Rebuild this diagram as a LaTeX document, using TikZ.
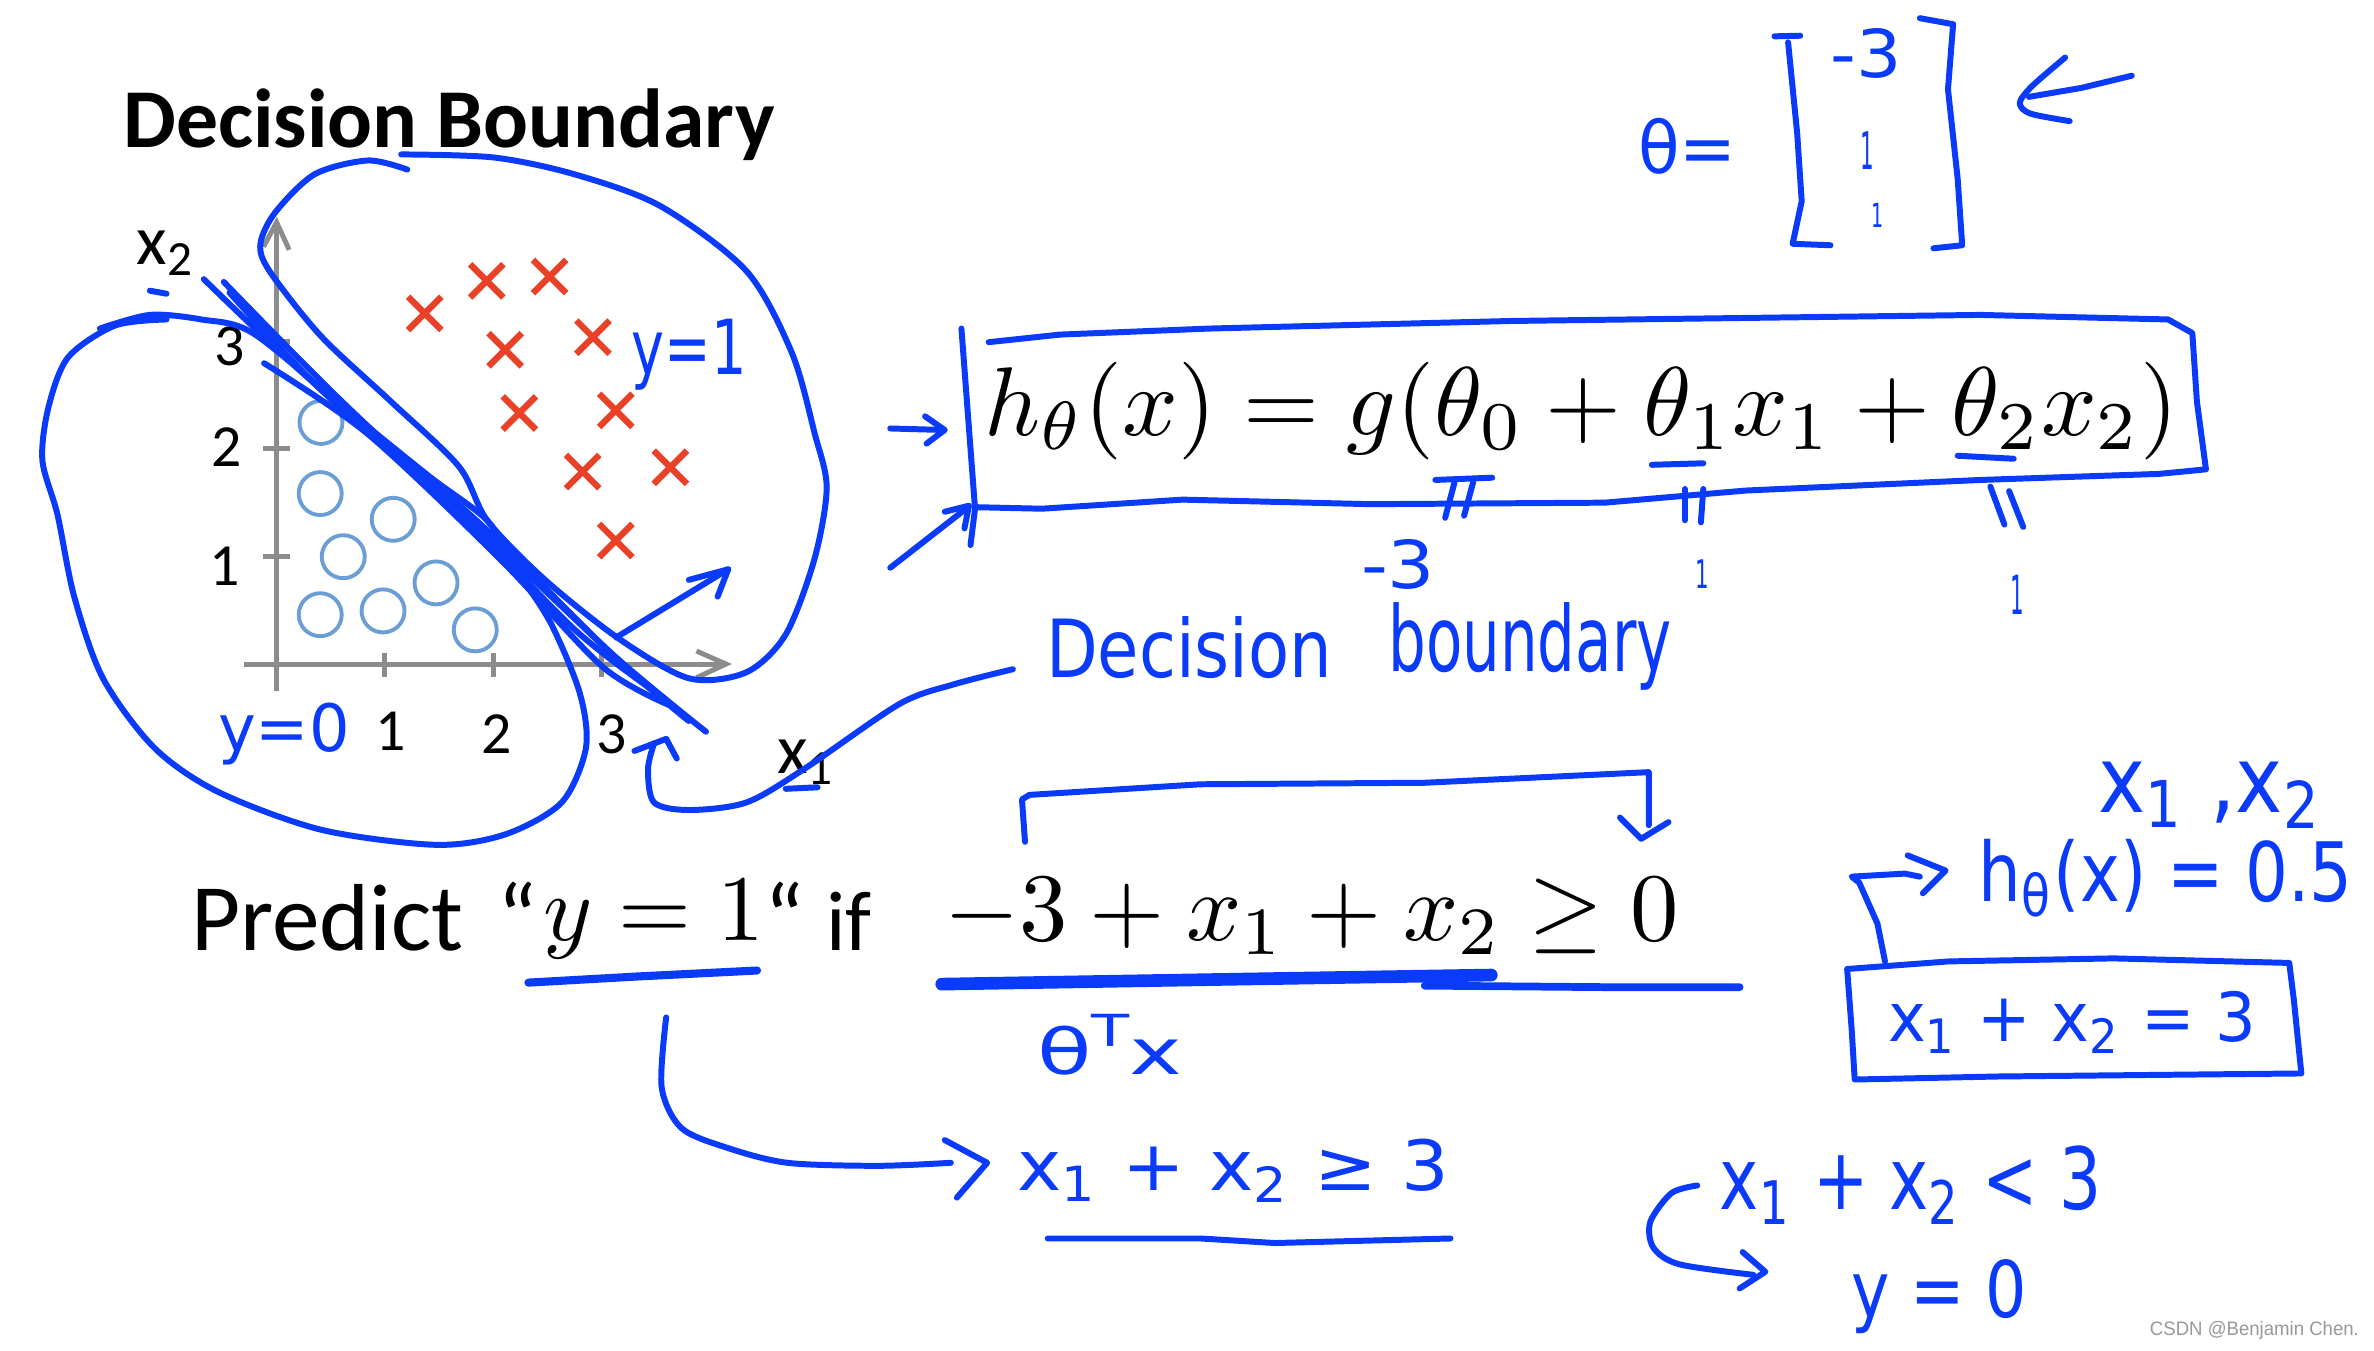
\documentclass[tikz,border=0pt]{standalone}
\usepackage{fontspec}
\setmainfont{Carlito}
\newfontfamily\hand{DejaVu Sans}
\newfontfamily\wmfont{Liberation Sans}
\usepackage{graphicx}
\newlength\pxu
\setlength\pxu{0.01514cm}
\definecolor{penblue}{RGB}{10,58,250}
\definecolor{circblue}{RGB}{108,158,214}
\definecolor{crossred}{RGB}{232,65,40}
\definecolor{axisgray}{RGB}{140,140,140}
\newcommand\hwnode[6]{\node[hw] (#1) at (#2,#3) {\resizebox*{#4\pxu}{#5\pxu}{\hand #6}};}
\tikzset{
  pen/.style={draw=penblue, line width=1.7pt, line cap=round, line join=round},
  axisline/.style={draw=axisgray, line width=1.4pt},
  circ/.style={draw=circblue, line width=1.1pt},
  crossmark/.style={draw=crossred, line width=1.8pt},
  hw/.style={text=penblue, inner sep=0pt, outer sep=0pt, anchor=north west},
  ticklab/.style={inner sep=0pt, font=\fontsize{17pt}{20pt}\selectfont},
  axlab/.style={inner sep=0pt, anchor=base west, font=\fontsize{20pt}{24pt}\selectfont},
  plain/.style={inner sep=0pt, outer sep=0pt}
}
\begin{document}
\begin{tikzpicture}[x=0.01514cm,y=-0.01514cm]
\fill[white] (0,0) rectangle (1568,892);
\useasboundingbox (0,0) rectangle (1568,892);

% title
\node[plain, anchor=base west] (title) at (81.5,97.4) {\resizebox{430\pxu}{!}{\bfseries Decision Boundary}};

% axes
\draw[axisline] (161,438.6) -- (479.5,438.6);
\draw[axisline] (460,430) -- (479.5,438.6) -- (460,447.6);
\draw[axisline] (182.7,456.5) -- (182.7,146.8);
\draw[axisline] (174,163) -- (182.7,146.8) -- (191,165);
\foreach \tx in {254,326,397} \draw[axisline] (\tx,431) -- (\tx,447);
\foreach \ty in {367.7,296.5,225.6} \draw[axisline] (173.6,\ty) -- (191.4,\ty);
\node[ticklab] (tx1) at (257.8,483) {1};
\node[ticklab] (tx2) at (328,485) {2};
\node[ticklab] (tx3) at (403.7,485) {3};
\node[ticklab] (ty1) at (148.6,374) {1};
\node[ticklab] (ty2) at (149.7,295) {2};
\node[ticklab] (ty3) at (151.6,229) {3};
\node[axlab] (xtwo) at (90,175) {x\textsubscript{2}};
\node[axlab] (xone) at (513,511) {x\textsubscript{1}};

% data
\foreach \cx/\cy in {212/279,211.5/326,259.7/343,226.7/367.7,288/385,211.5/406,253/403.5,313.9/416}
  \draw[circ] (\cx,\cy) circle (14.2);
\foreach \cx/\cy in {280.5/207,321.5/185.5,363/182.6,333.6/231,391.6/222.7,343/272.8,406.7/271,384.8/311.5,442.8/308.6,406.7/357}
  \draw[crossmark] (\cx-11,\cy-11) -- (\cx+11,\cy+11) (\cx-11,\cy+11) -- (\cx+11,\cy-11);

% loops and boundary strokes
\draw[pen] plot[smooth] coordinates {(269,112) (243,106) (208,115) (182,140) (172,161) (178,179) (212,222) (258,265) (303,308) (322,344) (360,383) (409,422) (455,448) (493,444) (519,419) (538,369) (546,322) (538,286) (523,233) (493,179) (436,136) (379,115) (326,104) (265,102)};
\draw[pen] plot[smooth] coordinates {(66,217) (99,208) (133,211) (167,220) (227,269) (284,315) (322,344) (341,376) (364,412) (383,458) (387,494) (371,530) (334,551) (288,558) (212,548) (144,523) (102,494) (68,448) (49,394) (38,340) (28,304) (32,269) (45,236) (76,215) (110,211)};
\draw[pen] plot[smooth] coordinates {(134.6,184.4) (204.7,250.6) (314.6,343.7) (401.8,429.6) (466.3,483.3)};
\draw[pen] plot[smooth] coordinates {(147.8,186.2) (227.4,266.7) (341.2,372.4) (417,444) (454.9,476.2)};
\draw[pen] plot[smooth] coordinates {(174.4,239.9) (242.6,286.4) (329.8,368.8) (398,440.4) (441.6,465.5)};
\draw[pen] plot[smooth] coordinates {(151.6,193.3) (212.3,257.8) (288.1,322.2) (379,415.3) (439.7,461.9)};
\draw[pen] (407,421) -- (481,376);
\draw[pen] (455,383) -- (481,376) -- (474,394);
\draw[pen] (99,192) -- (110,194);
\draw[pen] (519,521) -- (540,520);
\hwnode{yone}{417}{211}{76}{47}{y=1}
\hwnode{yzero}{144}{464}{87}{41}{y=0}

% decision boundary label and arrow
\hwnode{dec}{691}{407}{189}{41}{Decision}
\hwnode{bnd}{917}{398}{187}{58}{boundary}
\draw[pen] plot[smooth] coordinates {(669,442) (630,452) (594,465) (531,508) (493,530) (455,535) (432,530) (428,508) (432,491)};
\draw[pen] (419,496) -- (440,488) -- (447,501);

% hypothesis box
\node[plain, anchor=base west] (hyp) at (650,287.5) {\resizebox{789\pxu}{!}{$h_\theta(x)=g(\theta_0+\theta_1x_1+\theta_2x_2)$}};
\draw[pen] (641,360) -- (644,336) -- (635,217);
\draw[pen] (653,226) -- (700,221) -- (799,217) -- (998,212) -- (1308,208) -- (1432,211) -- (1448,220) -- (1451,265) -- (1457,310) -- (1426,313) -- (1308,317) -- (1153,324) -- (1060,332) -- (905,333) -- (781,330) -- (688,336) -- (645,335);
\draw[pen] (588,283) -- (623,284);
\draw[pen] (611,275) -- (624,284) -- (612,293);
\draw[pen] (588,375) -- (638,336);
\draw[pen] (624,338) -- (640,334) -- (637,349);
\draw[pen] (1091,307) -- (1125,306);
\draw[pen] (1293,301) -- (1330,303);
\draw[pen] (948,317) -- (985.6,315.5);
\draw[pen] (960.7,318.5) -- (954.5,342);
\draw[pen] (973,318.5) -- (967,340.6);
\draw[pen] (1112.8,323) -- (1112.8,343.6);
\draw[pen] (1125,323) -- (1123.4,345);
\draw[pen] (1314.6,321.4) -- (1323.9,346.5);
\draw[pen] (1327,324.4) -- (1336.3,348);
\hwnode{cm3}{899}{356}{49}{33}{-3}
\hwnode{cone}{1120}{370}{9}{19}{1}
\hwnode{ctwo}{1328}{380}{9}{26}{1}

% theta vector
\hwnode{theq}{1082}{78}{65}{37}{θ=}
\draw[pen] (1172,24) -- (1189,23.6);
\draw[pen] (1181,28) -- (1187,88) -- (1190,133) -- (1184,161) -- (1209,162);
\draw[pen] (1268,12) -- (1290,16) -- (1286.6,59) -- (1293,118) -- (1296,162) -- (1277,164);
\hwnode{vm3}{1209}{19}{47}{33}{-3}
\hwnode{vone}{1229}{87}{9}{25}{1}
\hwnode{vtwo}{1236}{134}{8}{16}{1}
\draw[pen] (1408,50) -- (1375,58) -- (1340,64);
\draw[pen] plot[smooth] coordinates {(1364,38) (1342,57) (1334,68) (1341,75) (1367,80)};

% predict line
\node[plain, anchor=base west] (pred) at (126.3,628) {\resizebox{180\pxu}{!}{Predict}};
\node[plain, anchor=base west] (q1) at (328.5,628) {\fontsize{27pt}{30pt}\selectfont “};
\node[plain, anchor=base west] (yeq) at (358.8,621.5) {\resizebox{146\pxu}{!}{$y=1$}};
\node[plain, anchor=base west] (q2) at (505,628) {\fontsize{27pt}{30pt}\selectfont “};
\node[plain, anchor=base west] (ifw) at (545.7,628) {\resizebox{30\pxu}{!}{if}};
\node[plain, anchor=base west] (cond) at (624,621) {\resizebox{485\pxu}{!}{$-3+x_1+x_2\geq 0$}};
\draw[pen, line width=2.3pt] (349,649) -- (420,645) -- (500,641);
\draw[pen, line width=3.6pt] (622,650) -- (800,647) -- (985,644);
\draw[pen, line width=2.2pt] (941,651) -- (1060,652) -- (1149,652);
\draw[pen] (677,556) -- (675,528) -- (680,525) -- (793,518) -- (941,517) -- (1089,510) -- (1089,545);
\draw[pen] (1070,540) -- (1084,554) -- (1102,543);
\hwnode{thx}{685}{670}{96}{40}{θ\raisebox{.8ex}{\scriptsize T}x}

% y=1 consequence
\draw[pen] plot[smooth] coordinates {(440,672) (437,718) (450,745) (480,758) (520,768) (580,770) (628,768)};
\draw[pen] (624,753) -- (652,768) -- (632,791);
\hwnode{ge}{672}{752}{285}{42}{x\textsubscript{1} + x\textsubscript{2}  ≥ 3}
\draw[pen] (692,818) -- (793,818) -- (842,821) -- (958,818);

% right side
\hwnode{x1x2}{1386}{503}{148}{44}{x\textsubscript{1} ,x\textsubscript{2}}
\hwnode{half}{1307}{554}{247}{52}{h\textsubscript{θ}(x) = 0.5}
\draw[pen] (1245,635) -- (1240,610) -- (1228,583) -- (1223,579) -- (1258,577) -- (1268,579);
\draw[pen] (1260,565) -- (1285,575) -- (1270,590);
\draw[pen] (1220,640) -- (1223,680) -- (1225,713) -- (1320,711) -- (1520,709) -- (1515,660) -- (1512,636) -- (1396,633) -- (1287,635) -- cycle;
\hwnode{eq3}{1247}{655}{243}{41}{x\textsubscript{1} + x\textsubscript{2} = 3}
\hwnode{lt3}{1136}{757}{252}{52}{x\textsubscript{1} + x\textsubscript{2} < 3}
\draw[pen] plot[smooth] coordinates {(1121,783) (1104,788) (1090,807) (1092,824) (1109,835) (1158,842)};
\draw[pen] (1151,827) -- (1166,840) -- (1149,851);
\hwnode{yz2}{1223}{832}{116}{49}{y = 0}

% watermark
\node[plain, anchor=north west, text=gray!80] (wm) at (1420,873) {\resizebox*{138\pxu}{12\pxu}{\wmfont CSDN @Benjamin Chen.}};
\end{tikzpicture}
\end{document}
